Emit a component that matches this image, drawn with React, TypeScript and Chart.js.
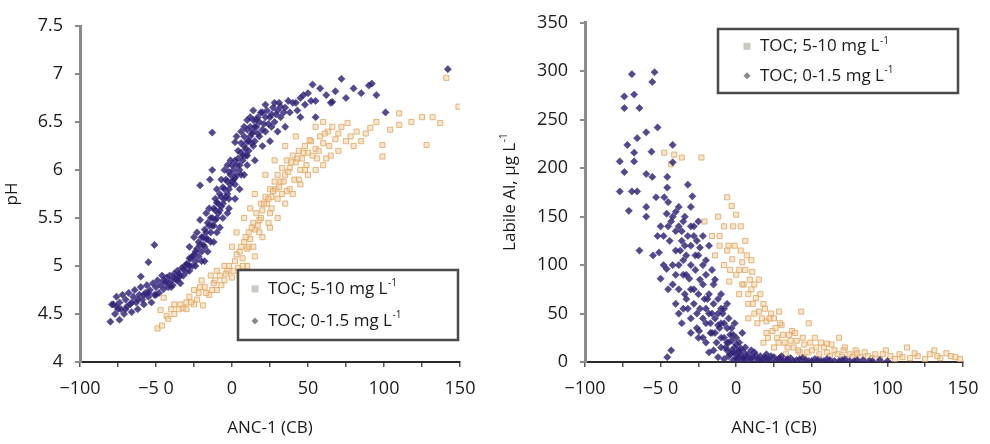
import React, { useEffect, useRef } from "react";
import { Chart, registerables } from "chart.js";

Chart.register(...registerables);

// ---------------- DATA ----------------
// Left panel: pH vs ANC-1 (CB)
const phTocLow: [number, number][] = [
  [-80, 4.42], [-79, 4.6], [-77, 4.5], [-76, 4.68], [-75, 4.55], [-74, 4.62], [-74, 4.44], [-72, 4.7], [-71, 4.5], [-70, 4.65],
  [-69, 4.58], [-68, 4.72], [-67, 4.6], [-66, 4.52], [-65, 4.68], [-64, 4.75], [-63, 4.62], [-62, 4.55], [-61, 4.7], [-60, 4.78],
  [-59, 4.65], [-58, 4.6], [-57, 4.72], [-56, 4.8], [-55, 4.68], [-54, 4.75], [-53, 4.62], [-52, 4.82], [-51, 4.7], [-50, 4.78],
  [-49, 4.85], [-48, 4.72], [-47, 4.8], [-46, 4.9], [-45, 4.76], [-44, 4.83], [-43, 4.88], [-42, 4.78], [-41, 4.9], [-40, 4.85],
  [-39, 4.8], [-38, 4.92], [-37, 4.86], [-36, 4.95], [-35, 4.88], [-34, 4.82], [-33, 4.98], [-32, 4.9], [-31, 5.0], [-30, 4.94],
  [-51, 5.22], [-55, 5.04], [-60, 4.89], [-78, 4.6],
  [-29, 5.02], [-28, 4.95], [-27, 5.08], [-26, 5.0], [-25, 5.12], [-24, 5.05], [-23, 5.18], [-22, 5.1], [-21, 5.22], [-20, 5.15],
  [-19, 5.3], [-18, 5.2], [-17, 5.35], [-16, 5.28], [-15, 5.42], [-14, 5.35], [-13, 5.5], [-12, 5.42], [-11, 5.58], [-10, 5.5],
  [-9, 5.65], [-8, 5.58], [-7, 5.72], [-6, 5.65], [-5, 5.8], [-4, 5.72], [-3, 5.88], [-2, 5.8], [-1, 5.95], [0, 5.88],
  [-25, 5.3], [-21, 5.48], [-15, 5.6], [-10, 5.8], [-5, 6.0], [-28, 5.2], [-18, 5.05], [-12, 5.25], [-8, 5.4], [-3, 5.55],
  [-13, 6.39], [-21, 5.84], [-14.5, 5.9], [-13, 6.0], [2, 6.29], [-1, 6.1],
  [1, 6.0], [2, 5.92], [3, 6.05], [4, 6.12], [5, 6.0], [6, 6.18], [7, 6.1], [8, 6.25], [9, 6.15], [10, 6.3],
  [11, 6.2], [12, 6.35], [13, 6.28], [14, 6.4], [15, 6.3], [16, 6.45], [17, 6.38], [18, 6.5], [20, 6.42], [22, 6.55],
  [24, 6.48], [26, 6.58], [28, 6.5], [30, 6.62], [32, 6.55], [35, 6.65], [38, 6.6], [40, 6.7], [43, 6.62], [45, 6.75],
  [48, 6.68], [50, 6.8], [55, 6.72], [58, 6.85], [62, 6.78], [65, 6.7], [68, 6.82], [72, 6.95], [75, 6.75], [80, 6.85],
  [85, 6.8], [90, 6.88], [95, 6.78], [142, 7.05], [16, 6.52], [32, 6.66], [53, 6.89], [66, 6.71], [92, 6.9], [101, 6.6],
  [5, 5.8], [10, 6.05], [15, 6.1], [20, 6.25], [25, 6.3], [30, 6.4], [35, 6.45], [2, 5.7], [-2, 5.6], [8, 5.95],
  [45, 6.55], [55, 6.55], [20, 6.6], [28, 6.7], [12, 6.55], [8, 6.45],
  [-36, 4.85], [-34, 4.9], [-32, 4.97], [-30, 5.02], [-28, 5.08], [-26, 5.1], [-24, 5.15], [-22, 5.25], [-20, 5.3], [-19, 5.22],
  [-18, 5.38], [-17, 5.28], [-16, 5.45], [-14, 5.5], [-13, 5.42], [-12, 5.6], [-11, 5.48], [-10, 5.66], [-9, 5.55], [-8, 5.75],
  [-7, 5.62], [-6, 5.82], [-5, 5.7], [-4, 5.9], [-3, 5.75], [-2, 5.98], [-1, 5.85], [0, 6.05], [1, 5.9], [2, 6.1],
  [3, 5.95], [4, 6.2], [5, 6.05], [6, 6.28], [7, 6.15], [8, 6.35], [9, 6.22], [10, 6.42], [11, 6.3], [12, 6.45],
  [13, 6.38], [14, 6.52], [15, 6.45], [17, 6.55], [19, 6.6], [21, 6.48], [23, 6.62], [25, 6.55], [27, 6.65], [29, 6.58],
  [31, 6.7], [34, 6.6], [37, 6.72], [42, 6.7], [47, 6.78], [52, 6.72], [-45, 4.85], [-42, 4.82], [-38, 4.88], [-35, 4.92],
  [-50, 4.7], [-55, 4.72], [-58, 4.7], [-62, 4.65], [-66, 4.62], [-70, 4.55], [-73, 4.55], [-76, 4.58], [-40, 4.78], [-28, 5.0],
  [-24, 5.0], [-20, 5.05], [-16, 5.15], [-14, 5.25], [-10, 5.35], [-6, 5.5], [-2, 5.7], [2, 5.85], [6, 5.95], [10, 6.15],
  [14, 6.25], [18, 6.35], [22, 6.4], [26, 6.45], [-23, 5.35], [-17, 5.55], [-11, 5.7], [-7, 5.9], [-3, 6.05], [3, 6.35],
  [6, 6.4], [10, 6.52], [14, 6.62], [22, 6.68],
];

const phTocHigh: [number, number][] = [
  [-49, 4.35], [-46, 4.38], [-47, 4.54], [-45, 4.67], [-43, 4.48], [-40, 4.55], [-38, 4.6], [-35, 4.55], [-32, 4.56], [-30, 4.62],
  [-28, 4.68], [-25, 4.6], [-22, 4.72], [-19, 4.59], [-18, 4.78], [-15, 4.7], [-12, 4.82], [-10, 4.75], [-8, 4.9], [-5, 4.85],
  [-3, 4.95], [0, 4.88], [2, 5.05], [4, 4.98], [5, 5.15], [7, 5.08], [8, 5.25], [10, 5.18], [11, 5.35], [12, 5.28],
  [14, 5.45], [15, 5.38], [16, 5.55], [18, 5.48], [19, 5.65], [20, 5.58], [22, 5.72], [23, 5.65], [25, 5.8], [26, 5.72],
  [28, 5.88], [29, 5.8], [30, 5.95], [32, 5.88], [33, 6.02], [35, 5.95], [36, 6.1], [38, 6.02], [40, 6.15], [42, 6.08],
  [44, 6.2], [46, 6.12], [48, 6.25], [50, 6.18], [52, 6.3], [55, 6.22], [58, 6.35], [60, 6.28], [63, 6.4], [66, 6.45],
  [70, 6.38], [76, 6.49], [82, 6.4], [91, 6.44], [99, 6.26], [99, 6.14], [110, 6.59], [110, 6.47], [125, 6.55], [128, 6.26],
  [137, 6.49], [141, 6.96], [149, 6.66], [51, 6.31],
  [5, 4.9], [10, 5.0], [15, 5.1], [20, 5.3], [25, 5.4], [30, 5.5], [35, 5.65], [40, 5.75], [45, 5.85], [50, 5.95],
  [55, 6.0], [60, 6.05], [0, 5.2], [8, 5.5], [15, 5.75], [22, 5.95], [28, 6.1], [35, 6.25], [42, 6.35], [65, 6.15],
  [70, 6.2], [75, 6.3], [85, 6.3], [-5, 5.0], [-10, 4.95], [25, 5.55], [30, 5.7], [38, 5.8], [45, 6.0], [60, 6.5],
  [55, 6.45], [-20, 4.85], [-25, 4.75], [-14, 4.9], [3, 5.35], [12, 5.6],
  [-42, 4.45], [-38, 4.5], [-34, 4.6], [-30, 4.55], [-27, 4.62], [-23, 4.65], [-21, 4.78], [-17, 4.72], [-13, 4.75], [-11, 4.85],
  [-7, 4.8], [-4, 4.92], [-2, 5.0], [1, 4.95], [3, 5.12], [6, 5.2], [9, 5.3], [11, 5.2], [13, 5.4], [17, 5.42],
  [19, 5.5], [21, 5.65], [24, 5.7], [27, 5.78], [31, 5.82], [34, 5.88], [37, 5.98], [39, 6.08], [43, 6.12], [47, 6.18],
  [49, 6.05], [53, 6.15], [57, 6.2], [61, 6.38], [64, 6.25], [68, 6.32], [72, 6.45], [78, 6.35], [88, 6.38], [95, 6.5],
  [104, 6.42], [118, 6.5], [132, 6.55], [18, 5.35], [26, 5.6], [33, 5.75], [41, 5.9], [48, 6.0], [56, 6.12], [14, 5.2],
  [7, 5.0], [24, 5.45], [36, 5.78], [44, 5.9], [62, 6.12], [80, 6.25],
];

// Right panel: Labile Al vs ANC-1 (CB)
const alTocLow: [number, number][] = [
  [-69, 297], [-54, 299], [-55.5, 289], [-74, 274], [-67.5, 276], [-74, 262], [-64, 262], [-52, 242], [-59.5, 237], [-65.5, 231],
  [-72, 224], [-67.5, 216], [-56, 217], [-77, 207], [-67.5, 207], [-42, 224], [-74, 196], [-59.5, 194], [-55.5, 191], [-77, 176],
  [-69, 176], [-65.5, 176], [-71, 156], [-59.5, 160], [-59.5, 150], [-45.6, 191], [-45.6, 180], [-53, 170], [-47.6, 170], [-46, 153],
  [-29, 171], [-32, 183], [-42, 206], [-64, 115], [-51, 113], [-46, 96], [-50, 86], [-31, 86], [-24.5, 32], [-43, 12], [-45.6, 5],
  [-45, 140], [-42, 150], [-40, 135], [-38, 160], [-36, 125], [-35, 145], [-33, 110], [-32, 130], [-30, 120], [-28, 140],
  [-40, 115], [-44, 125], [-38, 100], [-35, 90], [-30, 100], [-27, 95], [-25, 110], [-22, 80], [-25, 70], [-28, 75],
  [-33, 65], [-20, 90], [-18, 70], [-20, 55], [-22, 45], [-15, 60], [-17, 40], [-12, 50], [-14, 30], [-10, 40],
  [-8, 25], [-10, 15], [-6, 35], [-5, 20], [-3, 12], [-2, 28], [0, 8], [0, 18], [2, 5], [3, 14],
  [5, 10], [6, 3], [8, 8], [10, 4], [12, 10], [14, 2], [16, 6], [18, 3], [20, 8], [22, 2],
  [25, 5], [28, 3], [30, 6], [33, 2], [36, 4], [40, 2], [44, 4], [48, 1], [52, 3], [56, 1],
  [60, 3], [65, 1], [70, 2], [75, 1], [80, 2], [88, 1], [95, 2], [-25, 25], [-20, 20], [-15, 12],
  [-12, 5], [-8, 3], [-5, 6], [-2, 2], [-18, 10], [-30, 45], [-26, 50], [-35, 55], [-15, 80], [-12, 65],
  [-8, 55], [-5, 45], [-3, 35], [0, 25], [2, 20], [4, 30], [-38, 75], [-42, 80], [-48, 100],
  [-50, 140], [-48, 130], [-45, 165], [-43, 145], [-40, 155], [-38, 140], [-36, 135], [-34, 150], [-30, 140], [-28, 130],
  [-26, 125], [-24, 118], [-20, 105], [-16, 95], [-10, 70], [-6, 60], [-1, 40], [6, 15], [10, 12], [-22, 130],
  [-40, 60], [-38, 50], [-36, 40], [-34, 70], [-32, 55], [-30, 30], [-28, 60], [-26, 35], [-24, 55], [-22, 25],
  [-20, 40], [-19, 65], [-17, 30], [-16, 50], [-14, 45], [-13, 20], [-11, 35], [-10, 25], [-9, 50], [-7, 15],
  [-6, 20], [-4, 28], [-4, 8], [-3, 22], [-1, 15], [1, 10], [1, 3], [3, 7], [4, 2], [7, 6],
  [9, 2], [11, 5], [13, 7], [15, 3], [17, 1], [19, 5], [21, 3], [23, 6], [26, 1], [29, 4],
  [31, 1], [34, 3], [38, 1], [42, 3], [46, 2], [50, 1], [54, 2], [58, 1], [62, 2], [68, 1],
  [72, 3], [78, 1], [84, 2], [90, 1], [100, 1], [-45, 75], [-42, 100], [-40, 90], [-37, 115], [-33, 90],
  [-30, 75], [-27, 110], [-24, 85], [-21, 65], [-18, 50], [-16, 30], [-12, 38], [-8, 40], [-6, 12], [-2, 10],
  [0, 4], [2, 12], [5, 4], [-35, 105], [-30, 160], [-34, 120], [-25, 145], [-22, 100], [-18, 120], [-14, 85],
  [-10, 55], [-52, 130], [-55, 110],
];

const alTocHigh: [number, number][] = [
  [-47.6, 216], [-41, 214], [-36, 211], [-23, 211], [-43, 204], [-3, 161], [0, 152], [-16, 130], [-11, 130], [-11, 120],
  [-2.6, 106], [4, 103], [10.6, 93], [-4.6, 83], [2, 70], [13, 66], [15, 52], [20, 42], [24, 32], [28.4, 52],
  [43, 52], [48, 40], [68, 25], [79, 12], [113, 15], [131, 12], [139, 9], [99, 12], [37, 32], [60, 19],
  [22, 45], [5, 80], [8, 60], [10, 75], [12, 50], [15, 85], [18, 60], [20, 30], [25, 45], [27, 25],
  [30, 38], [32, 20], [35, 28], [38, 15], [40, 22], [42, 10], [45, 18], [50, 12], [52, 25], [55, 8],
  [58, 15], [62, 6], [65, 12], [70, 5], [72, 15], [75, 8], [82, 5], [85, 10], [90, 4], [92, 8],
  [95, 3], [102, 6], [105, 3], [108, 8], [115, 4], [120, 6], [125, 3], [128, 8], [135, 4], [142, 6],
  [148, 3], [0, 90], [-5, 120], [-8, 100], [3, 115], [6, 125], [-2, 140], [8, 45], [18, 20], [25, 15],
  [33, 8], [45, 5], [55, 3], [-21, 145], [-14, 110],
  [-8, 140], [-6, 115], [-4, 95], [-1, 120], [2, 95], [4, 80], [6, 95], [8, 70], [9, 85], [11, 60],
  [12, 80], [14, 40], [16, 70], [17, 45], [19, 55], [21, 25], [23, 50], [26, 35], [28, 20], [29, 40],
  [31, 28], [34, 15], [36, 22], [39, 30], [41, 12], [44, 25], [47, 10], [49, 20], [53, 15], [56, 20],
  [60, 10], [63, 18], [67, 8], [71, 12], [77, 5], [80, 9], [87, 6], [97, 8], [110, 5], [118, 9],
  [133, 6], [145, 5], [-12, 150], [-6, 170], [3, 140], [7, 110], [10, 105],
];

const xTickValues = [-100, -50, 0, 50, 100, 150];
const xTickLabels = ["\u2212100", "\u22125 0", "0", "50", "100", "150"];
const legendLabels = ["TOC; 5-10 mg L", "TOC; 0-1.5 mg L"];
const legendSup = "-1";
const xTitle = "ANC-1 (CB)";
const phTitle = "pH";
const alTitle = "Labile Al, \u00b5g L";

// ---------------- STYLE ----------------
const FONT = "'Open Sans', 'Noto Sans', sans-serif";
const purpleFill = "rgba(48,32,115,0.82)";
const purpleBorder = "rgba(70,55,140,0.55)";
const orangeFill = "rgba(246,206,152,0.5)";
const orangeBorder = "rgba(220,162,92,0.75)";

function drawSup(ctx: CanvasRenderingContext2D, x: number, y: number, base: string, sup: string, size: number) {
  ctx.font = `${size}px ${FONT}`;
  ctx.textBaseline = "middle";
  ctx.textAlign = "left";
  ctx.fillText(base, x, y);
  const w = ctx.measureText(base).width;
  ctx.font = `${Math.round(size * 0.6)}px ${FONT}`;
  ctx.fillText(sup, x + w + 0.5, y - size * 0.33);
}

const overlayPlugin = {
  id: "overlay",
  afterDraw(chart: any, _args: any, opts: any) {
    const ctx: CanvasRenderingContext2D = chart.ctx;
    ctx.save();
    const b = opts.box;
    if (b) {
      ctx.fillStyle = "#ffffff";
      ctx.fillRect(b.x, b.y, b.w, b.h);
      ctx.strokeStyle = "#4a4a4a";
      ctx.lineWidth = 2.5;
      ctx.strokeRect(b.x, b.y, b.w, b.h);
      const r1y = b.y + b.h * 0.27;
      const r2y = b.y + b.h * 0.73;
      ctx.fillStyle = "#c9c9c1";
      ctx.fillRect(b.mx - 3.5, r1y - 3.5, 7, 7);
      ctx.fillStyle = "#8a8a8a";
      ctx.beginPath();
      ctx.moveTo(b.mx, r2y - 3.5);
      ctx.lineTo(b.mx + 3.5, r2y);
      ctx.lineTo(b.mx, r2y + 3.5);
      ctx.lineTo(b.mx - 3.5, r2y);
      ctx.closePath();
      ctx.fill();
      ctx.fillStyle = "#1a1a1a";
      drawSup(ctx, b.tx, r1y, legendLabels[0], legendSup, 17);
      drawSup(ctx, b.tx, r2y, legendLabels[1], legendSup, 17);
    }
    if (opts.yTitle) {
      const ca = chart.chartArea;
      ctx.save();
      ctx.translate(opts.yTitle.x, (ca.top + ca.bottom) / 2);
      ctx.rotate(-Math.PI / 2);
      ctx.fillStyle = "#1a1a1a";
      ctx.font = `17px ${FONT}`;
      const w1 = ctx.measureText(opts.yTitle.text).width;
      ctx.font = `10px ${FONT}`;
      const w2 = ctx.measureText(legendSup).width;
      drawSup(ctx, -(w1 + w2) / 2, 0, opts.yTitle.text, legendSup, 17);
      ctx.restore();
    }
    ctx.restore();
  },
};

function makeConfig(p: {
  low: [number, number][];
  high: [number, number][];
  yMin: number;
  yMax: number;
  yStep: number;
  yWidth: number;
  padTop: number;
  padRight: number;
  yTitleText?: string;
  box: any;
  yTitlePlugin?: any;
}) {
  const tickFont = { family: FONT, size: 18 };
  return {
    type: "scatter" as const,
    data: {
      datasets: [
        {
          label: legendLabels[1],
          data: p.low.map(([x, y]) => ({ x, y })),
          pointStyle: "rectRot",
          pointRadius: 3.6,
          backgroundColor: purpleFill,
          borderColor: purpleBorder,
          borderWidth: 1,
        },
        {
          label: legendLabels[0],
          data: p.high.map(([x, y]) => ({ x, y })),
          pointStyle: "rect",
          pointRadius: 3.6,
          backgroundColor: orangeFill,
          borderColor: orangeBorder,
          borderWidth: 1,
        },
      ],
    },
    options: {
      responsive: false,
      animation: false,
      layout: { padding: { left: 0, top: p.padTop, right: p.padRight, bottom: 0 } },
      plugins: {
        legend: { display: false },
        tooltip: { enabled: false },
        overlay: { box: p.box, yTitle: p.yTitlePlugin },
      },
      scales: {
        x: {
          type: "linear",
          min: -100,
          max: 150,
          afterFit: (s: any) => {
            s.height = 82;
          },
          afterBuildTicks: (s: any) => {
            const t: any[] = [];
            for (let v = -100; v <= 150; v += 25) t.push({ value: v });
            s.ticks = t;
          },
          ticks: {
            autoSkip: false,
            maxRotation: 0,
            padding: 11,
            color: "#1a1a1a",
            font: tickFont,
            callback: (v: number) => {
              const i = xTickValues.indexOf(v);
              return i >= 0 ? xTickLabels[i] : "";
            },
          },
          grid: { drawOnChartArea: false, drawTicks: true, tickLength: 5, color: "#555", lineWidth: 1.5 },
          border: { display: true, color: "#2a2a2a", width: 2 },
          title: {
            display: true,
            text: xTitle,
            color: "#1a1a1a",
            font: { family: FONT, size: 17 },
            padding: { top: 0, bottom: 6 },
          },
        },
        y: {
          type: "linear",
          min: p.yMin,
          max: p.yMax,
          afterFit: (s: any) => {
            s.width = p.yWidth;
          },
          ticks: {
            stepSize: p.yStep,
            padding: 12,
            color: "#1a1a1a",
            font: tickFont,
            callback: (v: number) => String(Math.round(v * 10) / 10),
          },
          grid: { drawOnChartArea: false, drawTicks: true, tickLength: 5, color: "#8a8a8a", lineWidth: 2 },
          border: { display: true, color: "#8a8a8a", width: 3 },
          title: p.yTitleText
            ? {
                display: true,
                text: p.yTitleText,
                color: "#1a1a1a",
                font: { family: FONT, size: 17 },
                padding: { top: 2, bottom: 0 },
              }
            : { display: false },
        },
      },
    },
    plugins: [overlayPlugin],
  };
}

function Panel(props: { config: any; left: number }) {
  const ref = useRef<HTMLCanvasElement | null>(null);
  useEffect(() => {
    if (!ref.current) return;
    const chart = new Chart(ref.current, props.config);
    return () => chart.destroy();
  }, []);
  return (
    <div style={{ position: "absolute", left: props.left, top: 0, width: 495, height: 444 }}>
      <canvas ref={ref} width={495} height={444} style={{ width: 495, height: 444, display: "block" }} />
    </div>
  );
}

export default function App() {
  const leftCfg = makeConfig({
    low: phTocLow,
    high: phTocHigh,
    yMin: 4,
    yMax: 7.5,
    yStep: 0.5,
    yWidth: 80,
    padTop: 26,
    padRight: 35,
    yTitleText: phTitle,
    box: { x: 238, y: 270, w: 220, h: 70, mx: 255, tx: 268 },
  });
  const rightCfg = makeConfig({
    low: alTocLow,
    high: alTocHigh,
    yMin: 0,
    yMax: 350,
    yStep: 50,
    yWidth: 90,
    padTop: 15,
    padRight: 27,
    box: { x: 223, y: 29, w: 240, h: 64, mx: 252, tx: 265 },
    yTitlePlugin: { x: 15, text: alTitle },
  });
  return (
    <div style={{ position: "absolute", left: 0, top: 0, width: 990, height: 444, background: "#fff" }}>
      <Panel config={leftCfg} left={0} />
      <Panel config={rightCfg} left={495} />
    </div>
  );
}
